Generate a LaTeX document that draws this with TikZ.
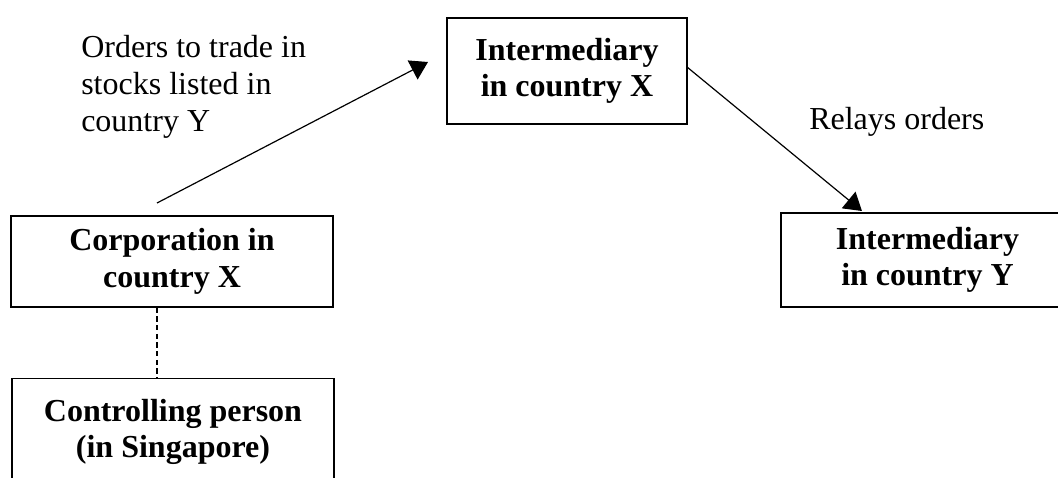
\documentclass[tikz,border=0pt]{standalone}
\usepackage{fontspec}
\setmainfont{Liberation Serif}
\usetikzlibrary{arrows.meta}
\begin{document}
\begin{tikzpicture}[x=0.75pt,y=-0.75pt,
  box/.style={draw, line width=1.2pt, align=center, inner sep=0pt,
    font=\fontsize{24}{27.5}\selectfont\bfseries},
  lbl/.style={align=left, inner sep=0pt, font=\fontsize{24}{27.75}\selectfont},
  arr/.style={line width=0.9pt, -{Triangle[length=13pt,width=16pt]}},
  dashline/.style={line width=0.9pt, dash pattern=on 4pt off 2.5pt}]
\useasboundingbox (0,0) rectangle (1058,478);
\clip (0,0) rectangle (1058,478);
\node[box, minimum width=180pt, minimum height=79.5pt] (ix) at (567,71) {Intermediary\\in country X};
\node[box, minimum width=241.5pt, minimum height=68.25pt] (corp) at (172,261.5) {Corporation in\\country X};
\node[box, minimum width=241.5pt, minimum height=80pt] (ctrl) at (173,432) {Controlling person\\(in Singapore)};
\node[box, minimum width=220pt, minimum height=70.5pt] (iy) at (927.5,260) {Intermediary\\in country Y};
\node[lbl, anchor=north west] (ordlbl) at (81,35) {Orders to trade in\\stocks listed in\\country Y};
\node[lbl, anchor=base west] (rellbl) at (809,130) {Relays orders};
\coordinate (a1s) at (157,203);
\coordinate (a1e) at (428,62);
\coordinate (a2s) at (687,67);
\coordinate (a2e) at (862,211);
\draw[arr] (a1s) -- (a1e);
\draw[arr] (a2s) -- (a2e);
\draw[dashline] (corp.south -| a1s) -- (ctrl.north -| a1s);
\end{tikzpicture}
\end{document}
